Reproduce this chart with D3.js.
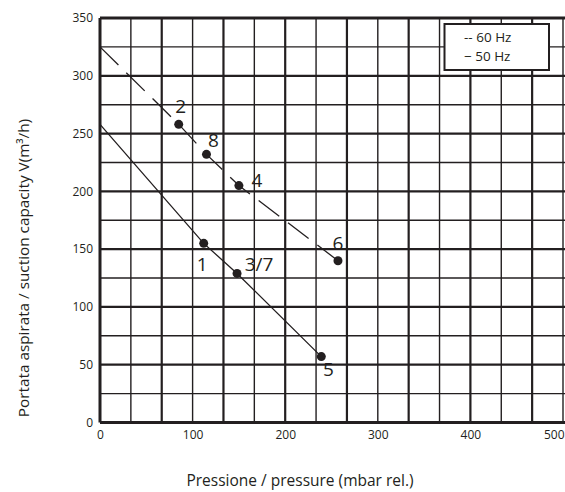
<!DOCTYPE html>
<html>
<head>
<meta charset="utf-8">
<script src="https://cdn.jsdelivr.net/npm/d3@7"></script>
<style>
  html, body { margin: 0; padding: 0; background: #fff; overflow: hidden; }
  svg { display: block; }
  text { font-family: "Open Sans", "Noto Sans", sans-serif; fill: #231f20; }
</style>
</head>
<body>
<svg id="chart" width="565" height="492"></svg>
<script>
// ---- data ----
const xTicks = [0, 100, 200, 300, 400, 500];
const yTicks = [0, 50, 100, 150, 200, 250, 300, 350];
// 60 Hz curve (dashed)
const pressure60 = [0, 85, 115, 150, 257];
const capacity60 = [325, 258, 232, 205, 140];
const labels60   = ["", "2", "8", "4", "6"];
// 50 Hz curve (solid)
const pressure50 = [0, 112, 148, 239];
const capacity50 = [258, 155, 129, 57];
const labels50   = ["", "1", "3/7", "5"];
const legendItems = ["-- 60 Hz", "\u2212 50 Hz"];
const xTitle = "Pressione / pressure (mbar rel.)";
const yTitle = "Portata aspirata / suction capacity V(m\u00B3/h)";

// ---- layout ----
const labelOffsets = {
  "2": [2, -11], "8": [7, -7], "4": [18, 1], "6": [0, -11],
  "1": [-1.5, 28], "3/7": [22, -2], "5": [7, 19]
};
const svg = d3.select("#chart");
const x = d3.scaleLinear().domain([0, 500]).range([100, 563]);
const y = d3.scaleLinear().domain([0, 350]).range([422.5, 18]);
const ink = "#231f20";

// grid
const vGrid = d3.range(0, 16).map(k => k * 100 / 3);
const hGrid = d3.range(0, 15).map(k => k * 25);
const g = svg.append("g");
g.selectAll(".hg").data(hGrid).enter().append("line")
  .attr("x1", x(0)).attr("x2", 570)
  .attr("y1", d => y(d)).attr("y2", d => y(d))
  .attr("stroke", ink)
  .attr("stroke-width", (d, i) => i === 0 || i === 14 ? 2.8 : (i % 2 === 0 ? 2.2 : 1.4));
g.selectAll(".vg").data(vGrid).enter().append("line")
  .attr("x1", d => x(d)).attr("x2", d => x(d))
  .attr("y1", y(350)).attr("y2", y(0))
  .attr("stroke", ink)
  .attr("stroke-width", (d, i) => i === 0 ? 3 : (i % 2 === 0 ? 2.2 : 1.4));

// axes tick labels (D3 axes with hidden domain/ticks)
const xAxis = svg.append("g").attr("transform", `translate(0,${y(0)})`)
  .call(d3.axisBottom(x).tickValues(xTicks).tickSize(0).tickPadding(8).tickFormat(d3.format("d")));
xAxis.select(".domain").remove();
xAxis.selectAll("text").attr("font-size", 12).style("font-family", "'Open Sans', sans-serif").attr("fill", ink);
// last label sits at the page edge: keep it fully visible
xAxis.selectAll(".tick").filter(d => d === 500).select("text")
  .attr("text-anchor", "end").attr("x", 564 - x(500));

const yAxis = svg.append("g").attr("transform", `translate(${x(0)},0)`)
  .call(d3.axisLeft(y).tickValues(yTicks).tickSize(0).tickPadding(7).tickFormat(d3.format("d")));
yAxis.select(".domain").remove();
yAxis.selectAll("text").attr("font-size", 12).style("font-family", "'Open Sans', sans-serif").attr("fill", ink);

// curves
const line = d3.line().x(d => x(d[0])).y(d => y(d[1]));
const pts60 = pressure60.map((p, i) => [p, capacity60[i], labels60[i]]);
const pts50 = pressure50.map((p, i) => [p, capacity50[i], labels50[i]]);

const dashed = svg.append("path").datum(pts60).attr("d", line)
  .attr("fill", "none").attr("stroke", ink).attr("stroke-width", 1.3);
// fit dash pattern so a dash starts at the axis and ends at the last point
const L = dashed.node().getTotalLength();
const gap = 11, nDash = 9;
const dash = (L - (nDash - 1) * gap) / nDash;
dashed.attr("stroke-dasharray", `${dash},${gap}`);

svg.append("path").datum(pts50).attr("d", line)
  .attr("fill", "none").attr("stroke", ink).attr("stroke-width", 1.3);

const marked = pts60.concat(pts50).filter(d => d[2] !== "");
svg.selectAll(".pt").data(marked).enter().append("circle")
  .attr("cx", d => x(d[0])).attr("cy", d => y(d[1])).attr("r", 4.5)
  .attr("fill", ink);
svg.selectAll(".lbl").data(marked).enter().append("text")
  .attr("x", d => x(d[0]) + labelOffsets[d[2]][0])
  .attr("y", d => y(d[1]) + labelOffsets[d[2]][1])
  .attr("text-anchor", "middle").attr("font-size", 19)
  .text(d => d[2]);

// legend
const lg = svg.append("g");
lg.append("rect").attr("x", 444.5).attr("y", 24).attr("width", 104.5).attr("height", 46)
  .attr("fill", "#fff").attr("stroke", ink).attr("stroke-width", 2);
lg.selectAll("text").data(legendItems).enter().append("text")
  .attr("x", 464).attr("y", (d, i) => 42 + i * 19)
  .attr("font-size", 13.5).text(d => d);

// axis titles
svg.append("text").attr("x", 300).attr("y", 486).attr("text-anchor", "middle")
  .attr("font-size", 15.5).text(xTitle);
svg.append("text").attr("transform", "translate(29,268) rotate(-90)")
  .attr("text-anchor", "middle").attr("font-size", 15.3).text(yTitle);
</script>
</body>
</html>
